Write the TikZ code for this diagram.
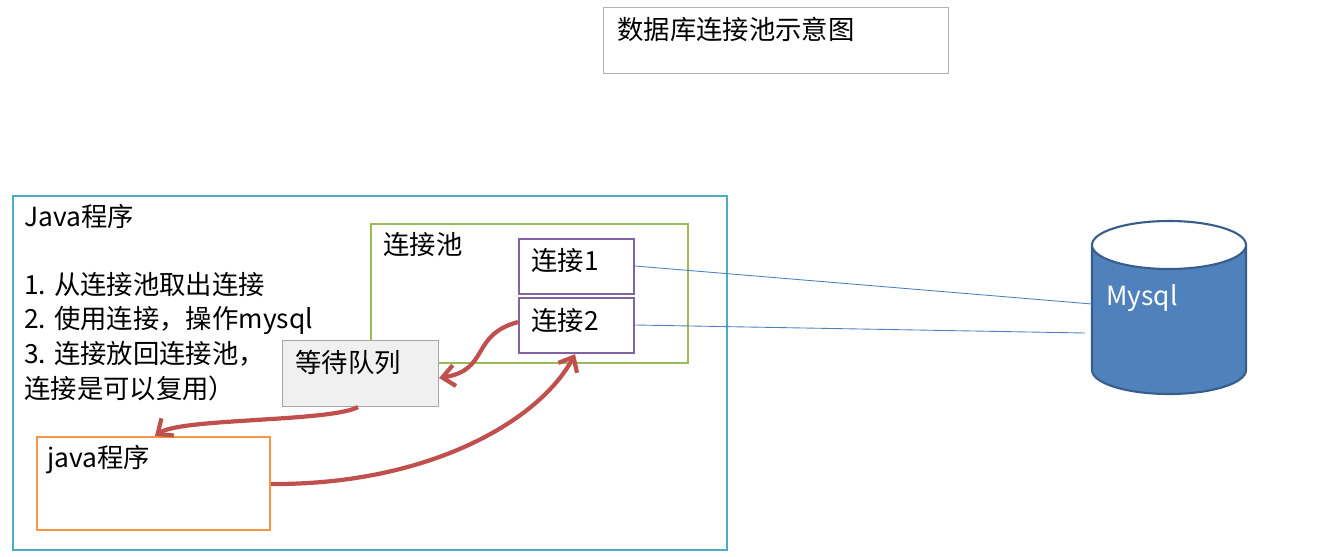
\documentclass[tikz,border=0pt]{standalone}
\usepackage{fontspec}
\setmainfont{Noto Sans CJK SC}
\usetikzlibrary{arrows.meta}
\definecolor{teal1}{HTML}{4BACC6}
\definecolor{green1}{HTML}{9BBB59}
\definecolor{purp}{HTML}{8064A2}
\definecolor{oran}{HTML}{F79646}
\definecolor{redd}{HTML}{C0504D}
\definecolor{dbf}{HTML}{4F81BD}
\definecolor{dbb}{HTML}{385D8A}
\tikzset{
 lbl/.style={anchor=west,inner sep=0pt,font=\fontsize{15}{17}\selectfont},
 box/.style={draw,line width=1.2pt,inner sep=0pt},
 flow/.style={draw=redd,line width=2.4pt,-{Straight Barb[length=7pt,width=12pt]}},
 link/.style={draw=dbf,line width=0.5pt}
}
\begin{document}
\begin{tikzpicture}[x=0.02cm,y=-0.02cm]
\useasboundingbox (0,0) rectangle (1322,557);
% title
\node[box,draw=gray!60,line width=0.6pt,minimum width=345*0.02cm,minimum height=66*0.02cm,anchor=north west] (title) at (603,7) {};
\node[lbl] (tt) at (617,29) {数据库连接池示意图};
% outer
\node[box,draw=teal1,minimum width=714*0.02cm,minimum height=354*0.02cm,anchor=north west] (outer) at (12,195) {};
\node[lbl] (jt) at (24,216) {Java程序};
\node[lbl] (l1) at (24,285) {1. 从连接池取出连接};
\node[lbl] (l2) at (24,320) {2. 使用连接，操作mysql};
\node[lbl] (l3) at (24,354) {3. 连接放回连接池，（};
\node[lbl] (l4) at (24,388) {连接是可以复用）};
% pool
\node[box,draw=green1,minimum width=317*0.02cm,minimum height=139*0.02cm,anchor=north west] (pool) at (370,223) {};
\node[lbl] (pt) at (383,245) {连接池};
\node[box,draw=purp,minimum width=115*0.02cm,minimum height=55*0.02cm,anchor=north west] (c1) at (518,238) {};
\node[lbl] at (531,261) {连接1};
\node[box,draw=purp,minimum width=115*0.02cm,minimum height=55*0.02cm,anchor=north west] (c2) at (518,297) {};
\node[lbl] at (531,321) {连接2};
% queue
\node[box,draw=gray!70,line width=0.6pt,fill=gray!12,minimum width=156*0.02cm,minimum height=66*0.02cm,anchor=north west] (q) at (282,340) {};
\node[lbl] at (295,362) {等待队列};
% java program
\node[box,draw=oran,minimum width=233*0.02cm,minimum height=93*0.02cm,anchor=north west] (jp) at (36,436) {};
\node[lbl] at (47,460) {java程序};
% database (cylinder drawn directly)
\draw[draw=dbb,line width=1.2pt,fill=dbf] (1092,245) -- (1092,370) arc[start angle=180,end angle=360,x radius=77,y radius=-24] -- (1246,245) arc[start angle=0,end angle=-180,x radius=77,y radius=-24] -- cycle;
\draw[draw=dbb,line width=1.2pt] (1092,245) arc[start angle=180,end angle=0,x radius=77,y radius=-24];
\node[lbl,text=white] (db) at (1106,298) {Mysql};
% links
\coordinate (d1) at (1092,304);
\coordinate (d2) at (1085,333);
\draw[link] (c1.east |- 0,266) -- (d1);
\draw[link] (c2.east |- 0,325) -- (d2);
% flows
\draw[flow] (c2.west |- 0,322) .. controls (470,335) and (490,370) .. (q.east |- 0,378);
\draw[flow] (q.south -| 358,0) .. controls (330,422) and (180,418) .. (jp.north -| 155,0);
\draw[flow] (jp.east |- 0,484) .. controls (430,485) and (540,420) .. (c2.south -| 575,0);
\end{tikzpicture}
\end{document}
